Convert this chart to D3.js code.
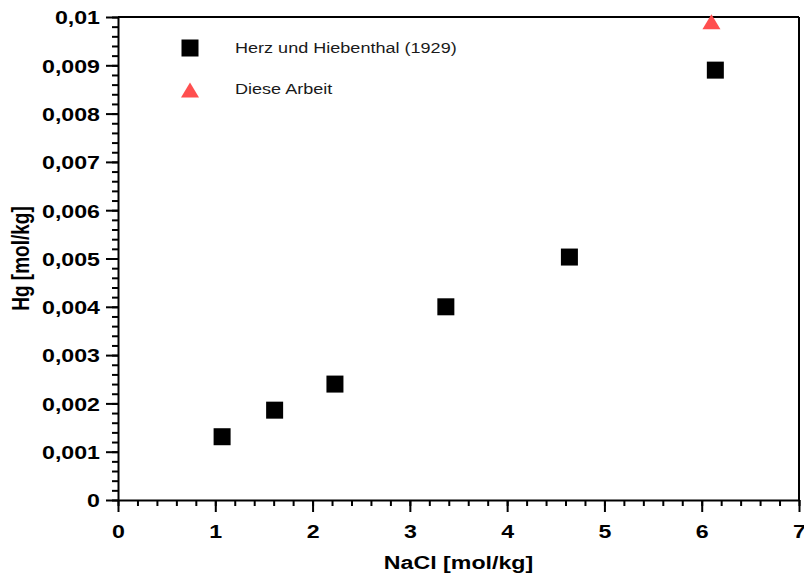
<!DOCTYPE html>
<html>
<head>
<meta charset="utf-8">
<script src="https://cdn.jsdelivr.net/npm/d3@7"></script>
<style>
  html, body { margin: 0; padding: 0; background: #fff; }
  svg { display: block; font-family: "Liberation Sans", Arial, sans-serif; }
</style>
</head>
<body>
<svg id="chart" width="804" height="577"></svg>
<script>
// data
const herzNaCl = [1.07, 1.61, 2.23, 3.37, 4.64, 6.14];
const herzHg = [0.00131, 0.00186, 0.0024, 0.0040, 0.00503, 0.0089];
const arbeitNaCl = [6.10];
const arbeitHg = [0.0099];

const xTicks = [0, 1, 2, 3, 4, 5, 6, 7];
const yTicks = [0, 0.001, 0.002, 0.003, 0.004, 0.005, 0.006, 0.007, 0.008, 0.009, 0.01];
const yTickLabels = ['0', '0,001', '0,002', '0,003', '0,004', '0,005', '0,006', '0,007', '0,008', '0,009', '0,01'];
const seriesNames = ['Herz und Hiebenthal (1929)', 'Diese Arbeit'];

// the original picture is stretched horizontally, text too
const STRETCH = 1.22;

const svg = d3.select('#chart');
const plotLeft = 118, plotRight = 799, plotTop = 17, plotBottom = 500;

const x = d3.scaleLinear().domain([0, 7]).range([plotLeft, plotRight]);
const y = d3.scaleLinear().domain([0, 0.01]).range([plotBottom, plotTop]);

// minor ticks first, majors on top
const xMinor = d3.range(0, 7.001, 0.2);
const yMinor = d3.range(0, 0.01001, 0.0002);

svg.append('g')
    .attr('transform', `translate(0,${plotBottom})`)
    .call(d3.axisBottom(x).tickValues(xMinor).tickSize(6).tickFormat(''))
    .call(g => g.select('.domain').remove())
    .selectAll('line').attr('stroke', '#000').attr('stroke-width', 2);

svg.append('g')
    .attr('transform', `translate(${plotLeft},0)`)
    .call(d3.axisLeft(y).tickValues(yMinor).tickSize(6).tickFormat(''))
    .call(g => g.select('.domain').remove())
    .selectAll('line').attr('stroke', '#000').attr('stroke-width', 2);

const xAxis = svg.append('g')
    .attr('transform', `translate(0,${plotBottom})`)
    .call(d3.axisBottom(x).tickValues(xTicks).tickSize(12).tickSizeOuter(0)
        .tickFormat(d3.format('d')));
xAxis.select('.domain').attr('stroke', '#000').attr('stroke-width', 2);
xAxis.selectAll('line').attr('stroke', '#000').attr('stroke-width', 2);
xAxis.selectAll('text')
    .attr('y', 0).attr('dy', 0)
    .attr('transform', `translate(0,38) scale(${STRETCH},1)`)
    .style('font-size', '19px').style('font-weight', 'bold')
    .style('font-family', '"Liberation Sans", Arial, sans-serif')
    .attr('fill', '#000');

const yAxis = svg.append('g')
    .attr('transform', `translate(${plotLeft},0)`)
    .call(d3.axisLeft(y).tickValues(yTicks).tickSize(12).tickSizeOuter(0)
        .tickFormat((d, i) => yTickLabels[i]));
yAxis.select('.domain').attr('stroke', '#000').attr('stroke-width', 2);
yAxis.selectAll('line').attr('stroke', '#000').attr('stroke-width', 2);
yAxis.selectAll('text')
    .attr('x', 0).attr('dy', '0.36em')
    .attr('transform', `translate(-18,0) scale(${STRETCH},1)`)
    .style('font-size', '19px').style('font-weight', 'bold')
    .style('font-family', '"Liberation Sans", Arial, sans-serif')
    .attr('fill', '#000');

// frame top and right
svg.append('line')
    .attr('x1', plotLeft).attr('x2', plotRight).attr('y1', plotTop).attr('y2', plotTop)
    .attr('stroke', '#000').attr('stroke-width', 2);
svg.append('line')
    .attr('x1', plotRight).attr('x2', plotRight).attr('y1', plotTop).attr('y2', plotBottom)
    .attr('stroke', '#000').attr('stroke-width', 2);

// axis titles
svg.append('text')
    .attr('transform', `translate(${(plotLeft + plotRight) / 2},569) scale(${STRETCH},1)`)
    .attr('text-anchor', 'middle')
    .style('font-size', '19px').style('font-weight', 'bold')
    .text('NaCl [mol/kg]');

svg.append('text')
    .attr('transform', `translate(29,${(plotTop + plotBottom) / 2}) scale(${STRETCH},1) rotate(-90)`)
    .attr('text-anchor', 'middle')
    .style('font-size', '19px').style('font-weight', 'bold')
    .text('Hg [mol/kg]');

const sq = 17;
const triPath = 'M0,-7.5L9,7.5L-9,7.5Z';
const triColor = '#ff4f4f';

// data marks
svg.append('g').selectAll('rect')
    .data(herzNaCl.map((d, i) => [d, herzHg[i]]))
    .enter().append('rect')
    .attr('x', d => x(d[0]) - sq / 2)
    .attr('y', d => y(d[1]) - sq / 2)
    .attr('width', sq).attr('height', sq)
    .attr('fill', '#000');

svg.append('g').selectAll('path')
    .data(arbeitNaCl.map((d, i) => [d, arbeitHg[i]]))
    .enter().append('path')
    .attr('d', triPath)
    .attr('transform', d => `translate(${x(d[0])},${y(d[1])})`)
    .attr('fill', triColor);

// legend
const legend = svg.append('g');
legend.append('rect')
    .attr('x', 190 - sq / 2).attr('y', 48 - sq / 2)
    .attr('width', sq).attr('height', sq).attr('fill', '#000');
legend.append('path')
    .attr('d', triPath)
    .attr('transform', 'translate(190,90)')
    .attr('fill', triColor);
legend.selectAll('text')
    .data(seriesNames)
    .enter().append('text')
    .attr('transform', (d, i) => `translate(235,${i === 0 ? 53 : 94}) scale(${STRETCH},1)`)
    .style('font-size', '14.8px')
    .attr('fill', '#1a1a1a')
    .text(d => d);
</script>
</body>
</html>
